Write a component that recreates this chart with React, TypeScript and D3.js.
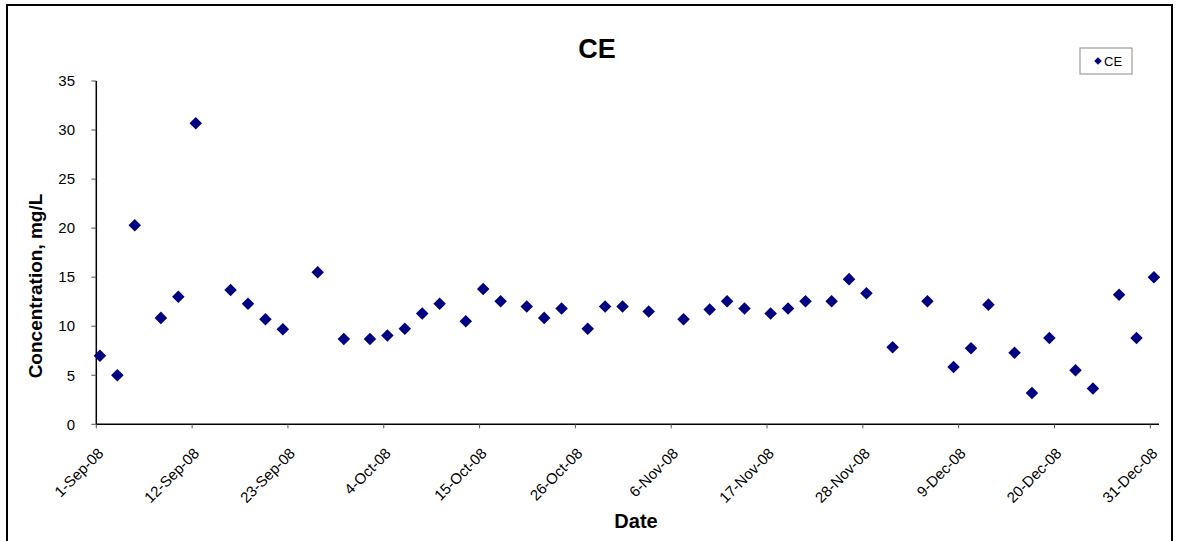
import React from 'react';
import * as d3 from 'd3';

// sampling dates (2008) and CE concentration, mg/L
const sampleDates = [
  '2008-09-01', '2008-09-03', '2008-09-05', '2008-09-08', '2008-09-10', '2008-09-12',
  '2008-09-16', '2008-09-18', '2008-09-20', '2008-09-22', '2008-09-26', '2008-09-29',
  '2008-10-02', '2008-10-04', '2008-10-06', '2008-10-08', '2008-10-10', '2008-10-13',
  '2008-10-15', '2008-10-17', '2008-10-20', '2008-10-22', '2008-10-24', '2008-10-27',
  '2008-10-29', '2008-10-31', '2008-11-03', '2008-11-07', '2008-11-10', '2008-11-12',
  '2008-11-14', '2008-11-17', '2008-11-19', '2008-11-21', '2008-11-24', '2008-11-26',
  '2008-11-28', '2008-12-01', '2008-12-05', '2008-12-08', '2008-12-10', '2008-12-12',
  '2008-12-15', '2008-12-17', '2008-12-19', '2008-12-22', '2008-12-24', '2008-12-27',
  '2008-12-29', '2008-12-31',
];
const ceValues = [
  7.0, 5.0, 20.3, 10.85, 13.0, 30.7,
  13.7, 12.3, 10.7, 9.7, 15.5, 8.7,
  8.7, 9.05, 9.75, 11.3, 12.3, 10.5,
  13.8, 12.55, 12.0, 10.85, 11.8, 9.75,
  12.0, 12.0, 11.5, 10.7, 11.7, 12.55,
  11.8, 11.3, 11.8, 12.55, 12.55, 14.8,
  13.35, 7.85, 12.55, 5.85, 7.75, 12.2,
  7.3, 3.2, 8.8, 5.5, 3.65, 13.2,
  8.8, 15.0,
];
const sampleTime = '10:00';
const xTickLabels = [
  '1-Sep-08', '12-Sep-08', '23-Sep-08', '4-Oct-08', '15-Oct-08', '26-Oct-08',
  '6-Nov-08', '17-Nov-08', '28-Nov-08', '9-Dec-08', '20-Dec-08', '31-Dec-08',
];
const yTicks = [0, 5, 10, 15, 20, 25, 30, 35];

const W = 1182;
const H = 541;
const plot = { left: 96.3, right: 1159, top: 81, bottom: 424.3 };
const navy = '#000080';
const font = 'Arial, "Liberation Sans", sans-serif';

const parseStamp = d3.utcParse('%Y-%m-%d %H:%M');
const parseTick = d3.utcParse('%d-%b-%y');

const diamond = d3.symbol().type(d3.symbolDiamond2).size(100);

export default function App() {
  const x = d3.scaleUtc()
    .domain([new Date(Date.UTC(2008, 8, 1)), new Date(Date.UTC(2009, 0, 1))])
    .range([plot.left, plot.right]);
  const y = d3.scaleLinear().domain([0, 35]).range([plot.bottom, plot.top]);

  const points = sampleDates.map((d, i) => ({
    date: parseStamp(`${d} ${sampleTime}`) as Date,
    value: ceValues[i],
  }));

  const diamondPath = diamond() as string;

  return (
    <svg width={W} height={H} style={{ position: 'absolute', left: 0, top: 0, background: '#fff' }}
      fontFamily={font}>
      <rect x={0} y={0} width={W} height={H} fill="#fff" />
      <rect x={7} y={5} width={1165} height={560} fill="none" stroke="#000" strokeWidth={2} />

      <text x={597} y={58} textAnchor="middle" fontSize={27} fontWeight="bold">CE</text>

      {/* y axis */}
      <line x1={plot.left} x2={plot.left} y1={plot.top} y2={plot.bottom} stroke="#000" strokeWidth={1.5} />
      {yTicks.map((t) => (
        <g key={t}>
          <line x1={plot.left - 5} x2={plot.left} y1={y(t)} y2={y(t)} stroke="#555" strokeWidth={1} />
          <text x={75} y={y(t)} dy="0.35em" textAnchor="end" fontSize={15}>{t}</text>
        </g>
      ))}

      {/* x axis */}
      <line x1={plot.left} x2={plot.right} y1={plot.bottom} y2={plot.bottom} stroke="#000" strokeWidth={1.5} />
      {xTickLabels.map((lbl) => {
        const px = x(parseTick(lbl) as Date);
        return (
          <g key={lbl}>
            <line x1={px} x2={px} y1={plot.bottom} y2={plot.bottom + 4} stroke="#555" strokeWidth={1} />
            <text transform={`translate(${px + 8},${plot.bottom + 30}) rotate(-45)`}
              textAnchor="end" fontSize={15}>{lbl}</text>
          </g>
        );
      })}

      <text x={636} y={528} textAnchor="middle" fontSize={20} fontWeight="bold">Date</text>
      <text transform={`translate(42,286) rotate(-90)`} textAnchor="middle" fontSize={19}
        fontWeight="bold">Concentration, mg/L</text>

      {/* points */}
      {points.map((p, i) => (
        <path key={i} d={diamondPath} transform={`translate(${x(p.date)},${y(p.value)})`} fill={navy} />
      ))}

      {/* legend */}
      <rect x={1080} y={48} width={52} height={26} fill="#fff" stroke="#888" strokeWidth={1} />
      <path d={(d3.symbol().type(d3.symbolDiamond2).size(36)() as string)}
        transform="translate(1098,61)" fill={navy} />
      <text x={1104} y={61} dy="0.35em" fontSize={13}>CE</text>
    </svg>
  );
}
